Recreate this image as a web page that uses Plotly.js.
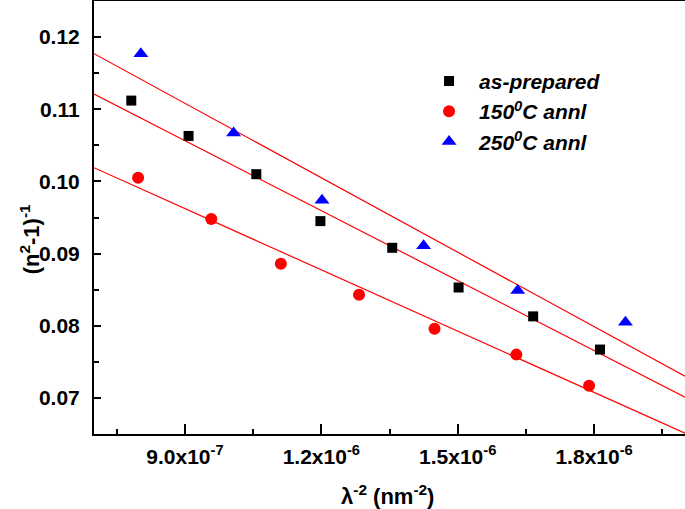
<!DOCTYPE html>
<html>
<head>
<meta charset="utf-8">
<script src="https://cdn.plot.ly/plotly-3.0.1.min.js"></script>
<style>html,body{margin:0;padding:0;background:#fff;}#chart{width:685px;height:509px;}</style>
</head>
<body>
<div id="chart"></div>
<script>
// Data
var asPrepX = [7.82e-7, 9.08e-7, 1.057e-6, 1.198e-6, 1.356e-6, 1.502e-6, 1.666e-6, 1.813e-6];
var asPrepY = [0.1112, 0.1063, 0.1010, 0.0945, 0.0908, 0.0853, 0.0813, 0.0767];
var annl150X = [7.97e-7, 9.58e-7, 1.111e-6, 1.283e-6, 1.449e-6, 1.629e-6, 1.789e-6];
var annl150Y = [0.1005, 0.0948, 0.0886, 0.0843, 0.0796, 0.0760, 0.0717];
var annl250X = [8.03e-7, 1.007e-6, 1.2015e-6, 1.425e-6, 1.632e-6, 1.869e-6];
var annl250Y = [0.1177, 0.1067, 0.0974, 0.0911, 0.0849, 0.0805];
// Linear fit lines (end points)
var fitX = [7.0e-7, 2.0e-6];
var fitAsPrepY = [0.1121, 0.0701];
var fit150Y = [0.1019, 0.0651];
var fit250Y = [0.1177, 0.0730];
// Tick labels
var xTickVals = [9.0e-7, 1.2e-6, 1.5e-6, 1.8e-6];
var xTickText = ['9.0x10<sup>-7</sup>', '1.2x10<sup>-6</sup>', '1.5x10<sup>-6</sup>', '1.8x10<sup>-6</sup>'];
var yTickVals = [0.07, 0.08, 0.09, 0.10, 0.11, 0.12];
var yTickText = ['0.07', '0.08', '0.09', '0.10', '0.11', '0.12'];
var xTitle = 'λ<sup>-2</sup> (nm<sup>-2</sup>)';
var yTitle = '(n<sup>2</sup>-1)<sup>-1</sup>';

var FONT = 'Arial, "Liberation Sans", sans-serif';
var fitLine = {color: '#ff0000', width: 1.2};

var traces = [
  {x: fitX, y: fit250Y, mode: 'lines', line: fitLine, showlegend: false, hoverinfo: 'skip'},
  {x: fitX, y: fitAsPrepY, mode: 'lines', line: fitLine, showlegend: false, hoverinfo: 'skip'},
  {x: fitX, y: fit150Y, mode: 'lines', line: fitLine, showlegend: false, hoverinfo: 'skip'},
  {x: asPrepX, y: asPrepY, mode: 'markers', name: 'as-prepared',
   marker: {symbol: 'square', size: 10, color: '#000000'}},
  {x: annl150X, y: annl150Y, mode: 'markers', name: '150<sup>0</sup>C annl',
   marker: {symbol: 'circle', size: 12, color: '#ff0000'}},
  {x: annl250X, y: annl250Y, mode: 'markers', name: '250<sup>0</sup>C annl',
   marker: {symbol: 'triangle-up', size: 13, color: '#0000ff'}}
];

var layout = {
  width: 685, height: 509,
  margin: {l: 94, r: 0, t: 1, b: 75, pad: 0},
  paper_bgcolor: '#ffffff', plot_bgcolor: '#ffffff',
  font: {family: FONT, color: '#000000'},
  xaxis: {
    range: [7.0e-7, 2.0e-6],
    tickmode: 'array', tickvals: xTickVals, ticktext: xTickText,
    ticks: 'inside', ticklen: 10, tickwidth: 2, tickcolor: '#000',
    minor: {tickmode: 'array', tickvals: [7.5e-7, 1.05e-6, 1.35e-6, 1.65e-6, 1.95e-6], ticks: 'inside', ticklen: 5, tickwidth: 2, tickcolor: '#000'},
    showline: true, linewidth: 2, linecolor: '#000', mirror: true,
    showgrid: false, zeroline: false,
    tickfont: {family: FONT, size: 21, weight: 'bold'},
    ticklabelstandoff: 3
  },
  yaxis: {
    range: [0.065, 0.125],
    tickmode: 'array', tickvals: yTickVals, ticktext: yTickText,
    ticks: 'inside', ticklen: 7, tickwidth: 2, tickcolor: '#000',
    minor: {tickmode: 'array', tickvals: [0.075, 0.085, 0.095, 0.105, 0.115], ticks: 'inside', ticklen: 5, tickwidth: 2, tickcolor: '#000'},
    showline: true, linewidth: 2, linecolor: '#000',
    showgrid: false, zeroline: false,
    tickfont: {family: FONT, size: 21, weight: 'bold'},
    ticklabelstandoff: 8
  },
  annotations: [
    {text: xTitle, xref: 'paper', yref: 'paper', x: 0.497, y: -0.176, xanchor: 'center', yanchor: 'bottom',
     showarrow: false, borderpad: 0, font: {family: FONT, size: 22, weight: 'bold'}},
    {text: yTitle, xref: 'paper', yref: 'paper', x: -0.108, y: 0.45, xanchor: 'center', yanchor: 'middle',
     textangle: -90, showarrow: false, font: {family: FONT, size: 22, weight: 'bold'}}
  ],
  legend: {
    x: 0.55, y: 0.862, xanchor: 'left', yanchor: 'top',
    bgcolor: 'rgba(0,0,0,0)', borderwidth: 0,
    font: {family: FONT, size: 21, weight: 'bold', style: 'italic'},
    itemwidth: 50
  }
};

Plotly.newPlot('chart', traces, layout, {staticPlot: true, displayModeBar: false});
</script>
</body>
</html>
